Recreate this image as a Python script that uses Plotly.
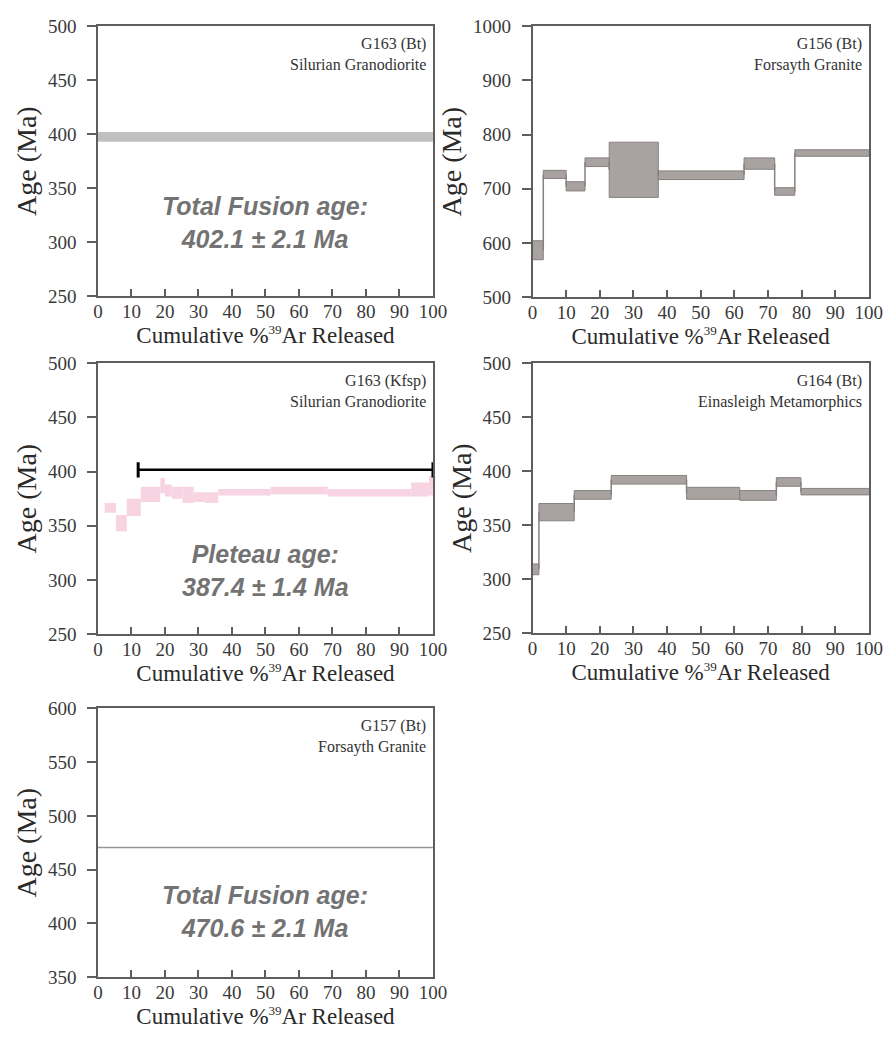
import plotly.graph_objects as go

# ---- step-heating data (cumulative % 39Ar, age band low/high in Ma) ----
# G156 (Bt) Forsayth Granite
g156_x = [0.0, 3.2, 10.0, 15.6, 22.8, 37.4, 62.9, 72.0, 78.0, 100.0]
g156_lo = [569, 719, 696, 741, 684, 717, 736, 688, 760]
g156_hi = [604, 734, 713, 757, 786, 733, 757, 702, 772]

# G163 (Kfsp) Silurian Granodiorite
g163k_x = [2.0, 5.4, 8.6, 12.8, 18.6, 20.0, 22.0, 25.2, 28.6, 32.0, 35.9, 51.5, 68.6, 93.5, 98.8, 100.0]
g163k_lo = [362, 345, 359, 372, 380, 377, 375, 371, 372, 371, 378, 379, 377, 377, 378]
g163k_hi = [371, 360, 375, 386, 394, 388, 386, 386, 381, 381, 384, 386, 384, 390, 396]
plateau_start, plateau_end, plateau_level = 12.0, 100.0, 401.6

# G164 (Bt) Einasleigh Metamorphics
g164_x = [0.0, 1.9, 12.4, 23.4, 45.8, 61.6, 72.5, 79.8, 100.0]
g164_lo = [304, 354, 374, 388, 374, 373, 386, 378]
g164_hi = [314, 370, 382, 396, 385, 382, 394, 384]

# total fusion ages
g163b_age, g163b_err, g163b_band_lo = 402.1, 2.1, 393.0
g157_age, g157_err = 470.6, 2.1

GRAY_FILL = "rgb(168,162,161)"
GRAY_EDGE = "rgb(135,129,128)"
PINK_FILL = "rgb(248,212,227)"
AXIS_COL = "#5e5e5e"
TICK_FONT = dict(family="Liberation Serif", size=19, color="#3a3a3a")
XTITLE_FONT = dict(family="Liberation Serif", size=23, color="#2a2a2a")
YTITLE_FONT = dict(family="Liberation Serif", size=28, color="#2a2a2a")
XTITLE = 'Cumulative %<sup><span style="font-size:13px">39</span></sup>Ar Released'

fig = go.Figure()

# panel domains: (x domain, y domain, y range, y dtick)
panels = {
    1: ([0.106, 0.488], [0.719, 0.984], [250, 500], 50),
    2: ([0.6015, 0.985], [0.718, 0.984], [500, 1000], 100),
    3: ([0.106, 0.488], [0.387, 0.653], [250, 500], 50),
    4: ([0.6015, 0.985], [0.388, 0.653], [250, 500], 50),
    5: ([0.106, 0.488], [0.050, 0.314], [350, 600], 50),
}

layout = {}
for i, (xd, yd, yr, dt) in panels.items():
    xa = "xaxis" if i == 1 else f"xaxis{i}"
    ya = "yaxis" if i == 1 else f"yaxis{i}"
    layout[xa] = dict(
        domain=xd, range=[0, 100], dtick=10, anchor=f"y{'' if i == 1 else i}",
        showline=True, mirror=True, linecolor=AXIS_COL, linewidth=1.5,
        ticks="inside", ticklen=7, tickwidth=1.5, tickcolor=AXIS_COL,
        ticklabelstandoff=-3,
        showgrid=False, zeroline=False, tickfont=TICK_FONT,
        title=dict(text=XTITLE, font=XTITLE_FONT, standoff=2),
    )
    layout[ya] = dict(
        domain=yd, range=yr, dtick=dt, anchor=f"x{'' if i == 1 else i}",
        showline=True, mirror=True, linecolor=AXIS_COL, linewidth=1.5,
        ticks="outside", ticklen=9, tickwidth=1.5, tickcolor=AXIS_COL,
        ticklabelstandoff=7,
        showgrid=False, zeroline=False, tickfont=TICK_FONT,
        title=dict(text="Age (Ma)", font=YTITLE_FONT, standoff=3),
    )


def axref(i):
    return ("x", "y") if i == 1 else (f"x{i}", f"y{i}")


def add_steps(i, edges, lo, hi, fill, edge, connectors=True):
    xr, yr = axref(i)
    for k in range(len(lo)):
        x0, x1 = edges[k], edges[k + 1]
        fig.add_trace(go.Scatter(
            x=[x0, x1, x1, x0, x0], y=[lo[k], lo[k], hi[k], hi[k], lo[k]],
            mode="lines", fill="toself", fillcolor=fill,
            line=dict(color=edge, width=1 if edge else 0),
            xaxis=xr, yaxis=yr, showlegend=False, hoverinfo="skip"))
    if connectors:
        for k in range(len(lo) - 1):
            xb = edges[k + 1]
            ya = (lo[k] + hi[k]) / 2
            yb = (lo[k + 1] + hi[k + 1]) / 2
            fig.add_trace(go.Scatter(
                x=[xb, xb], y=[ya, yb], mode="lines",
                line=dict(color=GRAY_EDGE, width=1.5),
                xaxis=xr, yaxis=yr, showlegend=False, hoverinfo="skip"))


# panel 1: total fusion band
add_steps(1, [0, 100], [g163b_band_lo], [g163b_age], "rgb(192,192,192)", None, connectors=False)
# panel 2: G156 spectrum
add_steps(2, g156_x, g156_lo, g156_hi, GRAY_FILL, GRAY_EDGE)
# panel 3: G163 Kfsp spectrum
add_steps(3, g163k_x, g163k_lo, g163k_hi, PINK_FILL, None, connectors=False)
fig.add_trace(go.Scatter(
    x=[plateau_start, plateau_end], y=[plateau_level, plateau_level],
    mode="lines+markers", line=dict(color="black", width=2.5),
    marker=dict(symbol="line-ns", size=11, line=dict(width=3, color="black")),
    xaxis="x3", yaxis="y3", showlegend=False, hoverinfo="skip"))
# panel 4: G164 spectrum
add_steps(4, g164_x, g164_lo, g164_hi, GRAY_FILL, GRAY_EDGE)
# panel 5: total fusion line
fig.add_trace(go.Scatter(
    x=[0, 100], y=[g157_age, g157_age], mode="lines",
    line=dict(color="rgb(150,150,150)", width=1.5),
    xaxis="x5", yaxis="y5", showlegend=False, hoverinfo="skip"))

labels = {
    1: ("G163 (Bt)", "Silurian Granodiorite"),
    2: ("G156 (Bt)", "Forsayth Granite"),
    3: ("G163 (Kfsp)", "Silurian Granodiorite"),
    4: ("G164 (Bt)", "Einasleigh Metamorphics"),
    5: ("G157 (Bt)", "Forsayth Granite"),
}
annotations = []
for i, (l1, l2) in labels.items():
    xr, yr = axref(i)
    annotations.append(dict(
        text=f"{l1}<br>{l2}", xref=f"{xr} domain", yref=f"{yr} domain",
        x=0.985, y=0.975, xanchor="right", yanchor="top", align="right",
        showarrow=False, font=dict(family="Liberation Serif", size=16, color="#333")))

big = dict(family="Liberation Sans", size=25, color="#737373")
big_texts = {
    1: f"<b><i>Total Fusion age:<br>{g163b_age} ± {g163b_err} Ma</i></b>",
    3: "<b><i>Pleteau age:<br>387.4 ± 1.4 Ma</i></b>",
    5: f"<b><i>Total Fusion age:<br>{g157_age} ± {g157_err} Ma</i></b>",
}
big_y = {1: 0.272, 3: 0.233, 5: 0.245}
for i, t in big_texts.items():
    xr, yr = axref(i)
    annotations.append(dict(
        text=t, xref=f"{xr} domain", yref=f"{yr} domain",
        x=0.5, y=big_y[i], xanchor="center", yanchor="middle", align="center",
        showarrow=False, font=big))

fig.update_layout(
    **layout,
    annotations=annotations,
    width=896, height=1039,
    margin=dict(l=0, r=0, t=0, b=0),
    paper_bgcolor="white", plot_bgcolor="white",
    showlegend=False,
)

fig.write_html("out.html")
